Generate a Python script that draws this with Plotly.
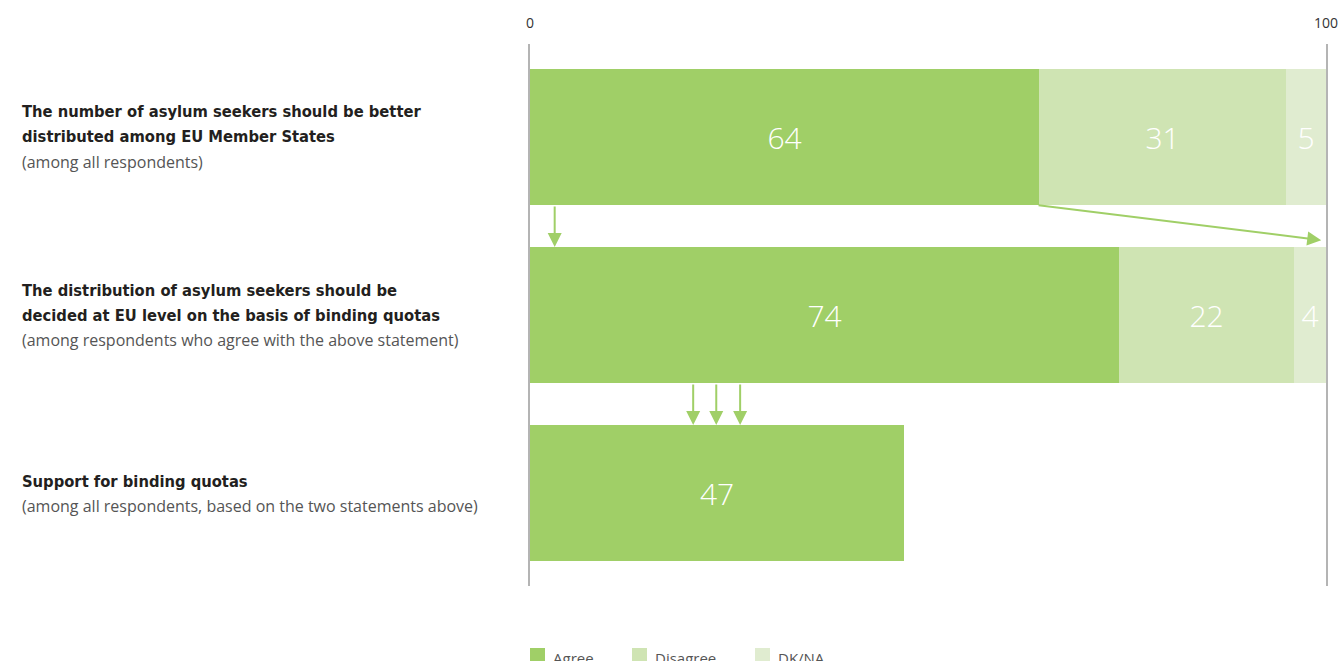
import plotly.graph_objects as go

# Survey statements (rows, top to bottom)
statements = [
    ["The number of asylum seekers should be better", "distributed among EU Member States"],
    ["The distribution of asylum seekers should be", "decided at EU level on the basis of binding quotas"],
    ["Support for binding quotas"],
]
subtitles = [
    "(among all respondents)",
    "(among respondents who agree with the above statement)",
    "(among all respondents, based on the two statements above)",
]

# Shares in percent
agree = [64, 74, 47]
disagree = [31, 22, None]
dkna = [5, 4, None]

series_names = ["Agree", "Disagree", "DK/NA"]
colors = ["#a0cf67", "#cfe4b3", "#e0ecd0"]

rows = [0, 1, 2]
bar_w = 0.764

MARGIN_L, MARGIN_R = 530, 18
PLOT_W = 1344 - MARGIN_L - MARGIN_R

fig = go.Figure()
for name, vals, col in zip(series_names, [agree, disagree, dkna], colors):
    fig.add_trace(go.Bar(
        y=rows, x=vals, orientation="h", name=name, width=bar_w,
        marker=dict(color=col, line=dict(width=0)),
        text=[("" if v is None else str(v)) for v in vals],
        textposition="inside", insidetextanchor="middle",
        textfont=dict(family="Open Sans", size=30, color="white", weight=300),
        hoverinfo="skip", showlegend=False,
    ))

# Flow arrows between the rows
arrow_style = dict(showarrow=True, arrowcolor="#a0cf67", arrowwidth=2,
                   arrowhead=2, arrowsize=1.4, xref="x", yref="y",
                   axref="x", ayref="y", text="", standoff=0, startstandoff=0)
half = bar_w / 2
annotations = []
annotations.append(dict(x=3.1, y=1 - half, ax=3.1, ay=0 + half, **arrow_style))
annotations.append(dict(x=99.4, y=0.58, ax=63.7, ay=0 + half, **arrow_style))
for xa in [20.5, 23.4, 26.4]:
    annotations.append(dict(x=xa, y=2 - half, ax=xa, ay=1 + half, **arrow_style))

# Row labels on the left
label_x = (20 - MARGIN_L) / PLOT_W
bold_font = dict(family="DejaVu Sans Condensed", size=16.4, color="#231f20", weight="bold")
sub_font = dict(family="Open Sans", size=16, color="#555555")
for r, (lines, sub) in enumerate(zip(statements, subtitles)):
    n = len(lines) + 1
    offsets = [-25, 0, 25] if n == 3 else [-12, 13]
    for i, line in enumerate(lines):
        annotations.append(dict(x=label_x, y=r, xref="paper", yref="y",
                                text=line, showarrow=False, xanchor="left",
                                yanchor="middle", yshift=-offsets[i], font=bold_font))
    annotations.append(dict(x=label_x, y=r, xref="paper", yref="y",
                            text=sub, showarrow=False, xanchor="left",
                            yanchor="middle", yshift=-offsets[-1], font=sub_font))

# Legend along the bottom
legend_px = [530, 632, 755]
shapes = []
for name, col, px in zip(series_names, colors, legend_px):
    lx = (px - MARGIN_L) / PLOT_W
    shapes.append(dict(type="rect", xref="paper", yref="paper",
                       x0=lx, x1=lx + 15 / PLOT_W, y0=-0.1144, y1=-0.1420,
                       fillcolor=col, line=dict(width=0)))
    annotations.append(dict(x=lx + 21 / PLOT_W, y=-0.1330, xref="paper", yref="paper",
                            text=name, showarrow=False, xanchor="left",
                            yanchor="middle", font=dict(family="Open Sans", size=15, color="#555555")))

fig.update_layout(
    width=1344, height=661, autosize=False,
    margin=dict(l=MARGIN_L, r=MARGIN_R, t=44, b=75, pad=0, autoexpand=False),
    barmode="stack", bargap=0,
    plot_bgcolor="white", paper_bgcolor="white",
    xaxis=dict(range=[0, 100], side="top", tickvals=[0, 100], ticktext=["0", "100"],
               showgrid=False, zeroline=False, showline=False,
               ticks="outside", ticklen=9, tickcolor="rgba(0,0,0,0)",
               tickfont=dict(family="Open Sans", size=14, color="#333333"),
               fixedrange=True, automargin=False),
    yaxis=dict(range=[2.522, -0.522], showticklabels=False, showgrid=False,
               zeroline=False, showline=True, mirror=True,
               linecolor="#b4b4b4", linewidth=2, ticks="", fixedrange=True,
               automargin=False),
    annotations=annotations,
    shapes=shapes,
    showlegend=False,
)

fig.write_html("out.html", config={"responsive": False, "displayModeBar": False})
